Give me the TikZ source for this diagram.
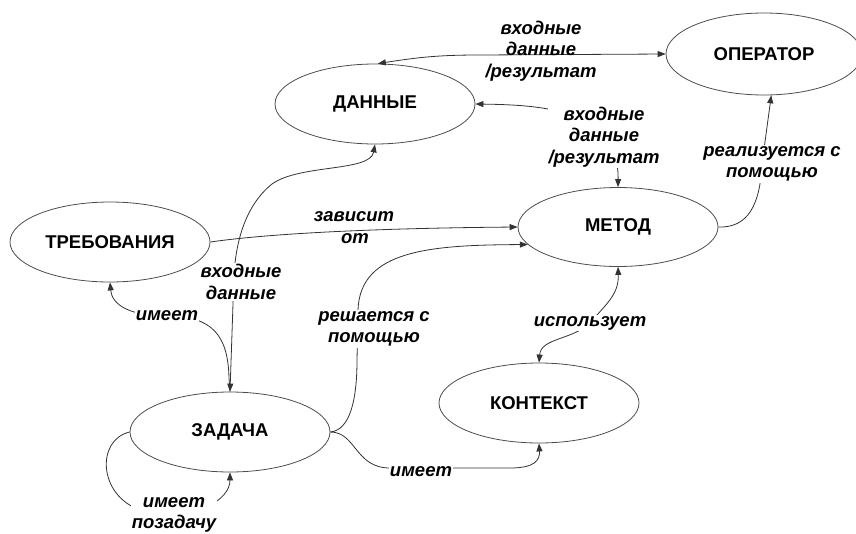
\documentclass[tikz,border=0pt]{standalone}
\usepackage{fontspec}
\setmainfont{Liberation Sans}
\usetikzlibrary{shapes.geometric,arrows.meta}
\tikzset{
  ent/.style={ellipse, draw=black!70, line width=0.8pt, minimum width=200pt, minimum height=80pt, inner sep=0pt, font=\fontsize{18.5}{21}\selectfont\bfseries},
  lbl/.style={font=\fontsize{18.5}{21.5}\selectfont\bfseries\itshape, align=center, inner sep=1pt},
  lblw/.style={lbl, fill=white},
  conn/.style={draw=black!80, line width=0.8pt},
  tip/.style={-{Triangle[length=8pt,width=6pt]}},
  tips/.style={{Triangle[length=8pt,width=6pt]}-{Triangle[length=8pt,width=6pt]}}
}
\begin{document}
\begin{tikzpicture}[x=1pt,y=-1pt]
\useasboundingbox (0,0) rectangle (856,533);
% entities
\node[ent] (dannye) at (375,104) {ДАННЫЕ};
\node[ent, minimum width=196pt, minimum height=82pt] (oper) at (764,54) {ОПЕРАТОР};
\node[ent] (treb) at (110,242) {ТРЕБОВАНИЯ};
\node[ent, minimum height=79pt] (metod) at (618,227) {МЕТОД};
\node[ent] (kont) at (539,403) {КОНТЕКСТ};
\node[ent] (zad) at (230,432) {ЗАДАЧА};
% C1 ДАННЫЕ <-> ОПЕРАТОР
\draw[conn,tips] (dannye.86) .. controls (420,57) and (440,55) .. (480,55) -- (oper.west);
\node[lbl] (l1) at (541,51) {входные\\данные\\/результат};
% C2 ДАННЫЕ <-> МЕТОД
\draw[conn,tips] (dannye.east) .. controls (545,105) and (619,110) .. (metod.north);
\node[lblw] (l2) at (604,137) {входные\\данные\\/результат};
% C3 ТРЕБОВАНИЯ -> МЕТОД
\draw[conn,tip] (treb.east) .. controls (280,232) and (400,228) .. (metod.west);
\node[lblw, inner sep=0pt] (l3b) at (355,239) {от};
\node[lbl] (l3a) at (354,217) {зависит};
% C4 ДАННЫЕ <-> ЗАДАЧА
\draw[conn,tips] (dannye.south) .. controls (370,172) and (300,164) .. (272,184) .. controls (246,205) and (236,240) .. (234,275) -- (zad.north);
% C5 ЗАДАЧА -> ТРЕБОВАНИЯ
\draw[conn,tip] (zad.north) -- (229,378) .. controls (228,335) and (212,316) .. (167,316) .. controls (130,316) and (112,305) .. (treb.south);
\node[lblw] (l4) at (241,282) {входные\\данные};
\node[lblw] (l5) at (167,316) {имеет};
% C6 ЗАДАЧА -> МЕТОД
\draw[conn,tip] (zad.east) .. controls (350,430) and (357,400) .. (357,360) -- (358,310) .. controls (360,250) and (430,245) .. (metod.191);
\node[lblw] (l6) at (374,329) {решается с\\помощью};
% C7 МЕТОД -> ОПЕРАТОР
\draw[conn,tip] (metod.east) .. controls (748,228) and (760,205) .. (762,164) -- (oper.280);
\node[lblw] (l7) at (772,164) {реализуется с\\помощью};
% C8 МЕТОД <-> КОНТЕКСТ
\draw[conn,tips] (metod.south) .. controls (619,295) and (605,305) .. (590,323) .. controls (572,340) and (541,338) .. (kont.north);
\node[lblw] (l8) at (590,323) {использует};
% C9 ЗАДАЧА -> КОНТЕКСТ
\draw[conn,tip] (zad.east) .. controls (356,432) and (355,468) .. (390,468) -- (510,468) .. controls (535,468) and (540,460) .. (kont.south);
\node[lblw] (l9) at (421,472) {имеет};
% C10 ЗАДАЧА self loop
\draw[conn,tip] (zad.west) .. controls (96,440) and (98,495) .. (140,510) -- (205,508) .. controls (222,500) and (230,490) .. (zad.south);
\node[lblw] (l10) at (174,515) {имеет\\позадачу};
\end{tikzpicture}
\end{document}
